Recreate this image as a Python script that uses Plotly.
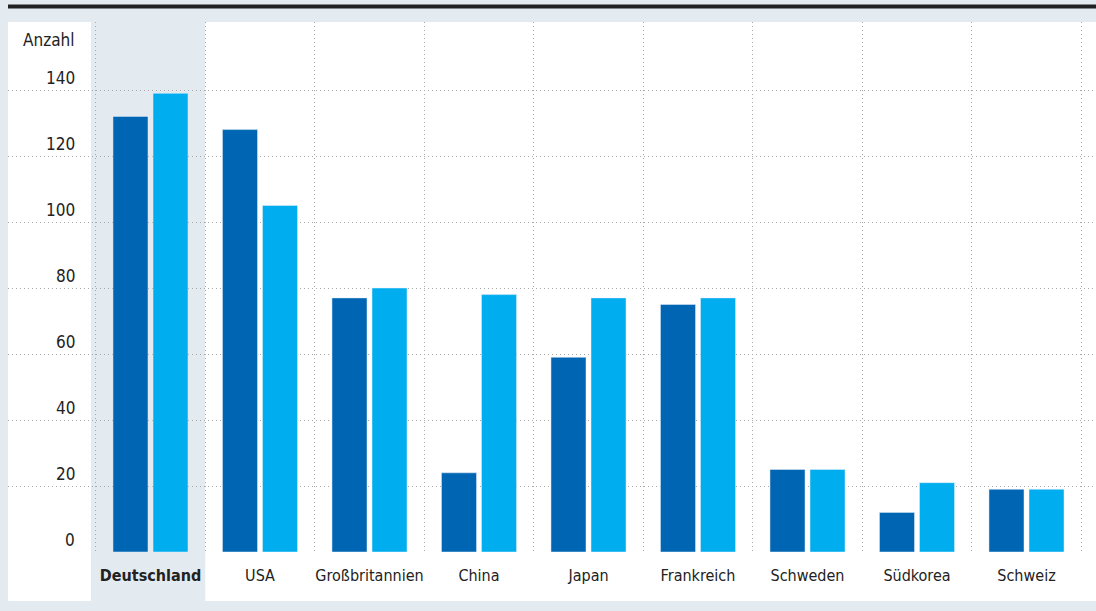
import plotly.graph_objects as go

categories = ["Deutschland", "USA", "Großbritannien", "China", "Japan",
              "Frankreich", "Schweden", "Südkorea", "Schweiz"]
series_a = [132, 128, 77, 24, 59, 75, 25, 12, 19]
series_b = [139, 105, 80, 78, 77, 77, 25, 21, 19]
y_ticks = [0, 20, 40, 60, 80, 100, 120, 140]
y_title = "Anzahl"
highlight = "Deutschland"

DARK = "#0066b3"
LIGHT = "#00aeef"
BG = "#e3eaf0"
FONT = "DejaVu Sans Condensed, Liberation Sans Narrow, Roboto, sans-serif"

W, H = 1096, 611
L, R, T, B = 8, 0, 22, 59
PW, PH = W - L - R, H - T - B

def px_x(px):
    return (px - L) / PW

def px_y(py):
    return (H - B - py) / PH

fig = go.Figure()
fig.add_bar(x=categories, y=series_a, marker_color=DARK, showlegend=False)
fig.add_bar(x=categories, y=series_b, marker_color=LIGHT, showlegend=False)

ticktext = [f"<b>{c}</b>" if c == highlight else c for c in categories]

slot = 109.5
c0 = 150.5
x0 = (L - c0) / slot
x1 = (W - R - c0) / slot

fig.update_layout(
    width=W, height=H,
    margin=dict(l=L, r=R, t=T, b=B, pad=0, autoexpand=False),
    paper_bgcolor=BG,
    plot_bgcolor="rgba(0,0,0,0)",
    barmode="group",
    bargap=0.269,
    bargroupgap=0.125,
    font=dict(family=FONT, size=17, color="#222222"),
    xaxis=dict(
        type="category",
        range=[x0, x1],
        tickmode="array",
        tickvals=categories,
        ticktext=ticktext,
        tickson="boundaries",
        tickangle=0,
        automargin=False,
        ticks="",
        showgrid=True,
        gridcolor="#a8a8a8",
        griddash="1px,3px",
        gridwidth=1,
        showline=False,
        zeroline=False,
        ticklabelstandoff=12,
        tickfont=dict(family=FONT, size=16, color="#222222"),
    ),
    yaxis=dict(
        range=[0, PH / 3.3],
        tickmode="array",
        tickvals=y_ticks,
        showticklabels=False,
        automargin=False,
        showgrid=True,
        gridcolor="#a8a8a8",
        griddash="1px,3px",
        gridwidth=1,
        zeroline=False,
        showline=False,
    ),
)

shapes = [
    dict(type="rect", xref="paper", yref="paper",
         x0=0, x1=1, y0=px_y(601), y1=px_y(22),
         fillcolor="white", line_width=0, layer="below"),
    dict(type="rect", xref="x", yref="paper",
         x0=-0.543, x1=0.5, y0=px_y(601), y1=px_y(22),
         fillcolor=BG, line_width=0, layer="below"),
    dict(type="line", xref="paper", yref="paper",
         x0=0, x1=1, y0=px_y(6.5), y1=px_y(6.5),
         line=dict(color="#222222", width=4)),
]
fig.update_layout(shapes=shapes)

annotations = []
for v in y_ticks:
    annotations.append(dict(
        x=px_x(77), xref="paper", y=v, yref="y",
        text=str(v), showarrow=False, xanchor="right", yanchor="middle",
        yshift=12, font=dict(family=FONT, size=17, color="#222222")))
annotations.append(dict(
    x=px_x(77), xref="paper", y=px_y(40), yref="paper",
    text=y_title, showarrow=False, xanchor="right", yanchor="middle",
    font=dict(family=FONT, size=17, color="#222222")))
fig.update_layout(annotations=annotations)

fig.write_html("out.html")
